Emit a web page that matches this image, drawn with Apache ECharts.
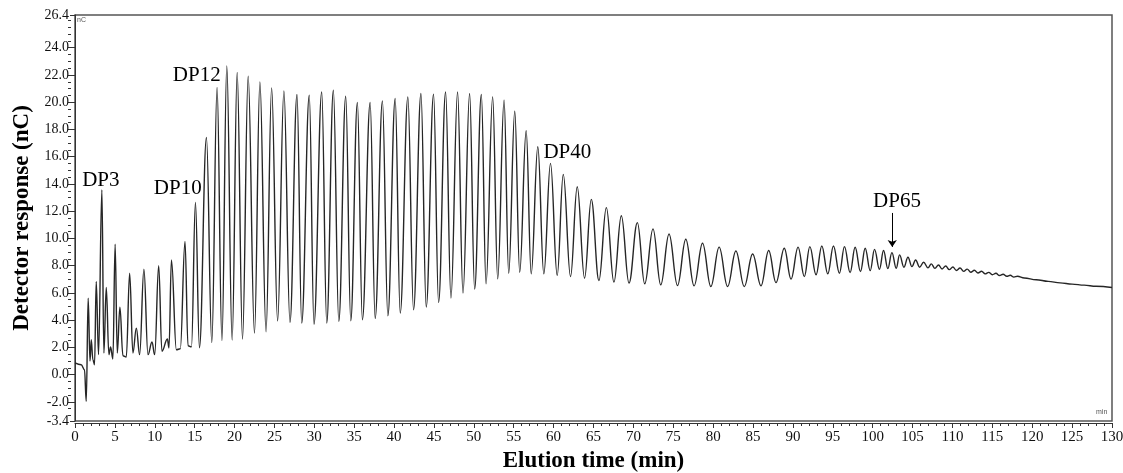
<!DOCTYPE html>
<html>
<head>
<meta charset="utf-8">
<title>Chromatogram</title>
<script src="https://cdn.jsdelivr.net/npm/echarts@6.0.0/dist/echarts.min.js"></script>
<style>
  html, body { margin: 0; padding: 0; background: #fff; }
  #chart { width: 1123px; height: 473px; }
</style>
</head>
<body>
<div id="chart"></div>
<script>
// early part of the trace (injection dip + DP1..DP10), read point by point
const earlyTime = [0, 0.78, 1.19, 1.41, 1.65, 1.88, 2.04, 2.24, 2.45, 2.66, 2.95, 3.37, 3.62, 3.92, 4.25, 4.46, 4.75,
  5.03, 5.30, 5.63, 6.01, 6.43, 6.85, 7.26, 7.69, 8.10, 8.64, 9.15, 9.65, 9.99, 10.49, 10.90, 11.58, 11.78,
  12.09, 12.71, 13.20, 13.79, 14.17, 14.60, 15.10];
const earlyValue = [0.86, 0.73, 0.37, -1.96, 5.62, 1.00, 2.56, 1.10, 0.73, 6.84, 1.47, 13.55, 1.59, 6.40, 1.47, 2.03, 1.15,
  9.57, 1.59, 4.96, 1.39, 1.30, 7.45, 1.59, 3.42, 1.47, 7.74, 1.47, 2.40, 1.47, 7.99, 1.71, 2.62, 1.96,
  8.42, 1.83, 1.90, 9.77, 2.12, 2.05, 12.65];

// DP11 onwards: the valley before each peak, then the peak apex
const valleyTime = [15.60, 17.15, 18.42, 19.70, 21.00, 22.50, 23.95, 25.40, 26.95, 28.42,
  29.96, 31.56, 33.07, 34.57, 36.03, 37.63, 39.22, 40.77, 42.44, 44.03,
  45.58, 47.13, 48.64, 50.10, 51.53, 52.99, 54.37, 55.75, 57.19, 58.77,
  60.45, 62.12, 63.88, 65.68, 67.56, 69.45, 71.42, 73.43, 75.53, 77.61,
  79.71, 81.81, 83.90, 86.00, 87.88, 89.76, 91.43, 92.90, 94.37, 95.83,
  97.17, 98.47, 99.69, 100.85, 101.90, 102.95, 103.92, 104.92, 105.88, 106.93,
  107.80, 108.70, 109.60, 110.50, 111.40, 112.30, 113.20, 114.10, 115.00, 115.90, 116.80, 117.70];
const valleyValue = [1.98, 2.35, 2.50, 2.55, 2.62, 3.05, 3.15, 3.95, 3.85, 3.79,
  3.71, 3.79, 3.91, 3.96, 4.03, 4.13, 4.32, 4.52, 4.76, 4.96,
  5.30, 5.62, 5.99, 6.28, 6.67, 7.03, 7.45, 7.52, 7.40, 7.40,
  7.28, 7.20, 7.08, 6.91, 6.79, 6.72, 6.67, 6.59, 6.54, 6.52,
  6.47, 6.47, 6.47, 6.52, 6.76, 7.01, 7.20, 7.33, 7.40, 7.45,
  7.50, 7.57, 7.64, 7.74, 7.79, 7.81, 7.89, 7.93, 7.89, 7.84,
  7.80, 7.76, 7.71, 7.65, 7.58, 7.52, 7.46, 7.40, 7.34, 7.28, 7.22, 7.16];
const peakTime = [16.48, 17.81, 19.03, 20.33, 21.71, 23.18, 24.65, 26.19, 27.83, 29.37,
  30.93, 32.39, 33.94, 35.40, 37.00, 38.54, 40.14, 41.73, 43.37, 44.95,
  46.46, 47.96, 49.47, 50.94, 52.36, 53.79, 55.13, 56.56, 58.02, 59.61,
  61.21, 62.96, 64.72, 66.61, 68.49, 70.50, 72.46, 74.47, 76.57, 78.67,
  80.75, 82.85, 84.95, 86.96, 88.92, 90.65, 92.12, 93.62, 95.08, 96.46,
  97.80, 99.06, 100.23, 101.36, 102.41, 103.37, 104.42, 105.38, 106.38, 107.35,
  108.25, 109.15, 110.05, 110.95, 111.85, 112.75, 113.65, 114.55, 115.45, 116.35, 117.25, 118.15];
const peakValue = [17.41, 21.08, 22.66, 22.18, 21.90, 21.49, 21.05, 20.83, 20.56, 20.51,
  20.75, 20.88, 20.44, 19.98, 19.98, 20.10, 20.27, 20.39, 20.64, 20.59,
  20.75, 20.75, 20.64, 20.56, 20.39, 20.15, 19.34, 17.90, 16.73, 15.51,
  14.70, 13.79, 12.87, 12.26, 11.67, 11.16, 10.70, 10.33, 9.94, 9.65,
  9.36, 9.08, 8.86, 9.11, 9.28, 9.36, 9.40, 9.45, 9.45, 9.40,
  9.35, 9.28, 9.20, 9.11, 8.96, 8.79, 8.62, 8.42, 8.25, 8.13,
  8.05, 7.98, 7.90, 7.83, 7.75, 7.67, 7.59, 7.51, 7.44, 7.37, 7.30, 7.22];

// smooth baseline drift at the end of the run
const tailTime = [119.0, 120.5, 122.0, 123.5, 125.0, 126.5, 128.0, 130.0];
const tailValue = [7.10, 6.97, 6.85, 6.74, 6.65, 6.57, 6.49, 6.40];

// axis ticks
const yTickValues = [-3.4, -2, 0, 2, 4, 6, 8, 10, 12, 14, 16, 18, 20, 22, 24, 26.4];

const trace = [];
earlyTime.forEach((t, i) => trace.push([t, earlyValue[i]]));
peakTime.forEach((t, i) => {
  trace.push([valleyTime[i], valleyValue[i]]);
  trace.push([t, peakValue[i]]);
});
tailTime.forEach((t, i) => trace.push([t, tailValue[i]]));

const yMinorTicks = [];
for (let v = -3.0; v <= 26.01; v += 0.5) yMinorTicks.push(Math.round(v * 10) / 10);

const serif = "'Liberation Serif', 'Times New Roman', serif";

const annotations = [
  { name: 'DP3', coord: [3.24, 14.25] },
  { name: 'DP10', coord: [12.88, 13.66] },
  { name: 'DP12', coord: [15.26, 21.94] },
  { name: 'DP40', coord: [61.72, 16.3] },
  { name: 'DP65', coord: [103.05, 12.71] },
];

function renderChart() {
  const dom = document.getElementById('chart');
  const chart = echarts.init(dom, null, { renderer: 'canvas' });
  const option = {
    animation: false,
    grid: {
      left: 75,
      right: 11,
      top: 15,
      bottom: 52,
      show: true,
      borderColor: '#555',
      borderWidth: 1.5,
      outerBoundsMode: 'none',
      containLabel: false,
    },
    xAxis: {
      type: 'value',
      min: 0,
      max: 130,
      interval: 5,
      offset: 2,
      name: 'Elution time (min)',
      nameLocation: 'middle',
      nameGap: 27,
      nameTextStyle: { fontFamily: serif, fontWeight: 'bold', fontSize: 23, color: '#000' },
      axisLine: { show: true, onZero: false, lineStyle: { color: '#333', width: 1 } },
      axisTick: { show: true, length: 5, lineStyle: { color: '#333' } },
      minorTick: { show: true, splitNumber: 5, length: 3, lineStyle: { color: '#333' } },
      axisLabel: { fontFamily: serif, fontSize: 15, color: '#111', margin: 7 },
      splitLine: { show: false },
    },
    yAxis: [
      {
        type: 'value',
        min: -3.4,
        max: 26.4,
        offset: 4,
        name: 'Detector response (nC)',
        nameLocation: 'middle',
        nameGap: 35,
        nameTextStyle: { fontFamily: serif, fontWeight: 'bold', fontSize: 23, color: '#000' },
        axisLine: { show: true, lineStyle: { color: '#333', width: 1 } },
        axisTick: { show: true, length: 5, customValues: yTickValues, lineStyle: { color: '#333' } },
        axisLabel: {
          fontFamily: serif, fontSize: 14, color: '#111', margin: 2,
          customValues: yTickValues,
          formatter: (v) => v.toFixed(1),
        },
        splitLine: { show: false },
      },
      {
        type: 'value',
        min: -3.4,
        max: 26.4,
        offset: 4,
        position: 'left',
        axisLine: { show: false },
        axisTick: { show: true, length: 3, customValues: yMinorTicks, lineStyle: { color: '#333' } },
        axisLabel: { show: false },
        splitLine: { show: false },
      }
    ],
    graphic: [
      { type: 'text', left: 77, top: 17, style: { text: 'nC', fontSize: 7, fill: '#555', fontFamily: 'Arial' } },
      { type: 'text', left: 1096, top: 409, style: { text: 'min', fontSize: 7, fill: '#555', fontFamily: 'Arial' } },
    ],
    series: [
      {
        type: 'line',
        data: trace,
        showSymbol: false,
        smooth: 0.4,
        smoothMonotone: 'x',
        lineStyle: { color: '#262626', width: 1.4 },
        silent: true,
        markPoint: {
          symbol: 'circle',
          symbolSize: 1,
          itemStyle: { color: 'rgba(0,0,0,0)' },
          label: {
            show: true,
            position: 'inside',
            formatter: '{b}',
            fontFamily: serif,
            fontSize: 21,
            color: '#000',
          },
          data: annotations,
        },
        markLine: {
          silent: true,
          symbol: ['none', 'arrow'],
          symbolSize: 7,
          label: { show: false },
          lineStyle: { color: '#000', width: 1, type: 'solid' },
          data: [[{ coord: [102.45, 11.87] }, { coord: [102.45, 9.38] }]],
        },
      }
    ]
  };
  chart.setOption(option, true);
}

renderChart();
</script>
</body>
</html>
